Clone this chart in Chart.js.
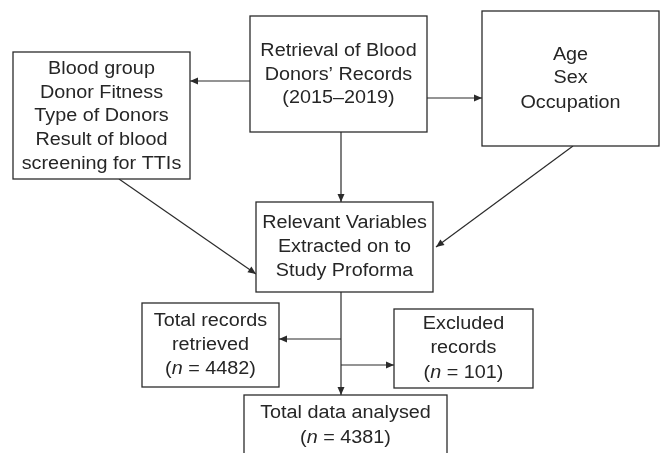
<!DOCTYPE html>
<html>
<head>
<meta charset="utf-8">
<script src="https://cdn.jsdelivr.net/npm/chart.js@4.4.0/dist/chart.umd.min.js"></script>
<style>
  html, body { margin: 0; padding: 0; background: #fff; }
  #wrap { width: 661px; height: 453px; }
</style>
</head>
<body>
<div id="wrap"><canvas id="flow" width="661" height="453"></canvas></div>
<script>
// flowchart content
const nodeIds = ["criteria", "retrieval", "demographics", "variables", "retrieved", "excluded", "analysed"];
const nodeLines = [
  ["Blood group", "Donor Fitness", "Type of Donors", "Result of blood", "screening for TTIs"],
  ["Retrieval of Blood", "Donors\u2019 Records", "(2015\u20132019)"],
  ["Age", "Sex", "Occupation"],
  ["Relevant Variables", "Extracted on to", "Study Proforma"],
  ["Total records", "retrieved", "(*n* = 4482)"],
  ["Excluded", "records", "(*n* = 101)"],
  ["Total data analysed", "(*n* = 4381)"]
];
const edgeFrom = ["retrieval", "retrieval", "retrieval", "criteria", "demographics", "variables", "variables", "variables"];
const edgeTo = ["criteria", "demographics", "variables", "variables", "variables", "analysed", "retrieved", "excluded"];

// layout in canvas units (x right, y down)
const boxes = {
  criteria: [13, 52, 190, 179],
  retrieval: [250, 16, 427, 132],
  demographics: [482, 11, 659, 146],
  variables: [256, 202, 433, 292],
  retrieved: [142, 303, 279, 387],
  excluded: [394, 309, 533, 388],
  analysed: [244, 395, 447, 470]
};
const lineCentres = {
  criteria: [68, 92, 115, 139, 163],
  retrieval: [50, 74, 97],
  demographics: [54, 77, 102],
  variables: [222, 246, 270],
  retrieved: [320, 344, 368],
  excluded: [323, 347, 372],
  analysed: [412, 437]
};
const edgePaths = [
  [[250, 81], [190, 81]],
  [[427, 98], [482, 98]],
  [[341, 132], [341, 202]],
  [[119, 179], [256, 274]],
  [[573, 146], [436, 247]],
  [[341, 292], [341, 395]],
  [[341, 339], [279, 339]],
  [[341, 365], [394, 365]]
];

const inkColor = "#262626";
const lineColor = "#2b2b2b";
const fontSize = 18;
const stretchX = 1.1;

const datasets = edgeFrom.map((f, i) => ({
  label: f + "->" + edgeTo[i],
  data: edgePaths[i].map(p => ({ x: p[0], y: p[1] })),
  showLine: true,
  borderColor: lineColor,
  borderWidth: 1.2,
  pointRadius: 0,
  fill: false
}));

const flowPlugin = {
  id: "flowBoxes",
  afterDatasetsDraw(chart) {
    const ctx = chart.ctx;
    const sx = chart.scales.x, sy = chart.scales.y;
    // arrowheads
    chart.data.datasets.forEach((ds, i) => {
      const pts = chart.getDatasetMeta(i).data;
      const a = pts[pts.length - 2], b = pts[pts.length - 1];
      const ang = Math.atan2(b.y - a.y, b.x - a.x);
      const len = 8, half = 3.5;
      ctx.save();
      ctx.fillStyle = lineColor;
      ctx.translate(b.x, b.y);
      ctx.rotate(ang);
      ctx.beginPath();
      ctx.moveTo(0, 0);
      ctx.lineTo(-len, -half);
      ctx.lineTo(-len, half);
      ctx.closePath();
      ctx.fill();
      ctx.restore();
    });
    // boxes and text
    nodeIds.forEach((id, i) => {
      const r = boxes[id];
      const x0 = sx.getPixelForValue(r[0]), x1 = sx.getPixelForValue(r[2]);
      const y0 = sy.getPixelForValue(r[1]), y1 = sy.getPixelForValue(r[3]);
      ctx.save();
      ctx.fillStyle = "#fff";
      ctx.fillRect(x0, y0, x1 - x0, y1 - y0);
      ctx.strokeStyle = lineColor;
      ctx.lineWidth = 1.3;
      ctx.strokeRect(x0, y0, x1 - x0, y1 - y0);
      ctx.restore();
      const cx = (x0 + x1) / 2;
      nodeLines[i].forEach((txt, j) => {
        const cy = sy.getPixelForValue(lineCentres[id][j]);
        drawLine(ctx, txt, cx, cy + fontSize * 0.36);
      });
    });
  }
};

function drawLine(ctx, txt, cx, baseY) {
  const runs = txt.split("*").map((t, k) => ({ t, italic: k % 2 === 1 })).filter(r => r.t);
  const fontFor = r => (r.italic ? "italic " : "") + fontSize + "px 'Liberation Sans', Arial, sans-serif";
  let total = 0;
  runs.forEach(r => { ctx.font = fontFor(r); r.w = ctx.measureText(r.t).width; total += r.w; });
  ctx.save();
  ctx.translate(cx, baseY);
  ctx.scale(stretchX, 1);
  ctx.fillStyle = inkColor;
  ctx.textBaseline = "alphabetic";
  ctx.textAlign = "left";
  let x = -total / 2;
  runs.forEach(r => { ctx.font = fontFor(r); ctx.fillText(r.t, x, 0); x += r.w; });
  ctx.restore();
}

new Chart(document.getElementById("flow"), {
  type: "scatter",
  data: { datasets },
  options: {
    responsive: false,
    animation: false,
    events: [],
    layout: { padding: 0 },
    plugins: { legend: { display: false }, tooltip: { enabled: false } },
    scales: {
      x: { type: "linear", min: 0, max: 661, display: false },
      y: { type: "linear", min: 0, max: 453, reverse: true, display: false }
    }
  },
  plugins: [flowPlugin]
});
</script>
</body>
</html>
